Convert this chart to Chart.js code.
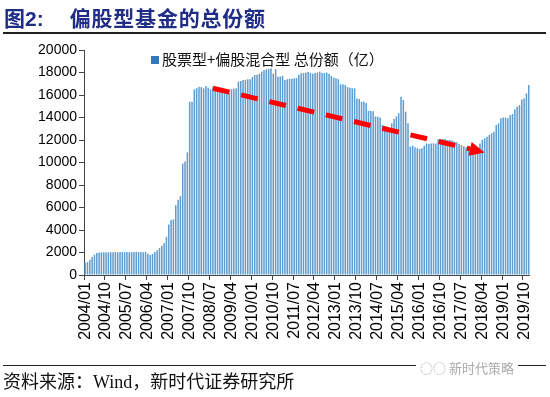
<!DOCTYPE html>
<html>
<head>
<meta charset="utf-8">
<script src="https://cdn.jsdelivr.net/npm/chart.js@4.4.1/dist/chart.umd.min.js"></script>
<style>
  body { margin: 0; background: #fff; }
  #wrap { position: relative; width: 550px; height: 397px; overflow: hidden; }
  #c { position: absolute; left: 0; top: 0; }
  .txt { position: absolute; white-space: nowrap; }
  #title { left: 4px; top: 2px; font: bold 21px "Noto Sans CJK SC"; color: #1F2D86; }
  #title .num { font-family: "Liberation Sans"; }
  #title .main { margin-left: 26px; letter-spacing: 0.8px; }
  #topline { position: absolute; left: 3px; top: 32px; width: 543px; height: 2px; background: #222; }
  #legend { left: 151px; top: 48px; font: 15px "Noto Sans CJK SC"; color: #111; }
  #legend .box { display: inline-block; width: 8px; height: 8px; background: #2F78BA; margin-right: 3px; vertical-align: 1px; }
  #botline { position: absolute; left: 3px; top: 365px; width: 543px; height: 1px; background: #222; }
  #source { left: 3px; top: 367px; font: 18px "Noto Sans CJK SC"; color: #111; }
  #source .en { font-family: "Liberation Serif"; }
  #mark { left: 416px; top: 358px; font: 13px "Noto Sans CJK SC"; color: #aaa; background: #fff; padding: 0 4px; }
</style>
</head>
<body>
<div id="wrap">
  <canvas id="c" width="550" height="397"></canvas>
  <div id="topline"></div>
  <div class="txt" id="title">图<span class="num">2:</span><span class="main">偏股型基金的总份额</span></div>
  <div class="txt" id="legend"><span class="box"></span>股票型+偏股混合型 总份额（亿）</div>
  <div id="botline"></div>
  <div class="txt" id="source">资料来源：<span class="en">Wind</span>，新时代证券研究所</div>
  <div class="txt" id="mark">◌◌ 新时代策略</div>
</div>
<script>
// 股票型+偏股混合型 总份额（亿），月度
const y2004 = [1100, 1150, 1350, 1600, 1800, 1950, 2000, 2000, 2020, 2010, 2030, 2030];
const y2005 = [2030, 2040, 2020, 2050, 2030, 2030, 2040, 2020, 2020, 2040, 2050, 2030];
const y2006 = [2040, 2030, 2050, 1900, 1780, 1870, 2050, 2200, 2400, 2600, 2850, 3400];
const y2007 = [4500, 4900, 4950, 6200, 6700, 7000, 9900, 10100, 10900, 15400, 15400, 16500];
const y2008 = [16600, 16740, 16700, 16600, 16800, 16650, 16500, 16700, 16600, 16500, 16450, 16450];
const y2009 = [16300, 16200, 16200, 16500, 16550, 16600, 17190, 17250, 17330, 17350, 17400, 17400];
const y2010 = [17600, 17780, 17800, 17900, 18080, 18200, 18290, 18300, 18370, 17900, 18300, 17630];
const y2011 = [17650, 17700, 17330, 17400, 17450, 17450, 17500, 17500, 17800, 17930, 17950, 18000];
const y2012 = [18040, 17950, 17900, 17950, 18000, 18080, 17950, 17950, 18000, 17900, 17700, 17540];
const y2013 = [17500, 17400, 16950, 16950, 16900, 16700, 16650, 16600, 16600, 15700, 15650, 15400];
const y2014 = [15400, 15300, 14600, 14580, 14550, 14100, 14070, 14000, 13330, 13250, 13200, 13040];
const y2015 = [13480, 13870, 14100, 14370, 15850, 15560, 14520, 13480, 11410, 11500, 11350, 11260];
const y2016 = [11200, 11260, 11500, 11700, 11650, 11700, 11700, 11700, 12060, 12080, 12080, 12080];
const y2017 = [12000, 12000, 11950, 11850, 11800, 11650, 11550, 11450, 11350, 11110, 11200, 11150];
const y2018 = [11100, 11200, 11700, 12000, 12150, 12300, 12450, 12600, 12740, 13330, 13480, 13930];
const y2019 = [14000, 14000, 13930, 14200, 14310, 14730, 14950, 15110, 15600, 15700, 16150, 16890];

const years = [2004, 2005, 2006, 2007, 2008, 2009, 2010, 2011, 2012, 2013, 2014, 2015, 2016, 2017, 2018, 2019];
const shares = [].concat(y2004, y2005, y2006, y2007, y2008, y2009, y2010, y2011, y2012, y2013,
  y2014, y2015, y2016, y2017, y2018, y2019);

// 每个月一个类别
const months = [];
years.forEach(y => {
  for (let m = 1; m <= 12; m++) months.push(y + '/' + (m < 10 ? '0' + m : m));
});

// 横轴上显示的刻度
const tickLabels = ['2004/01', '2004/10', '2005/07', '2006/04', '2007/01', '2007/10', '2008/07',
  '2009/04', '2010/01', '2010/10', '2011/07', '2012/04', '2013/01', '2013/10', '2014/07',
  '2015/04', '2016/01', '2016/10', '2017/07', '2018/04', '2019/01', '2019/10'];

// 红色虚线箭头（起点、终点）
const arrowFrom = { month: '2008/08', value: 16600 };
const arrowTo = { month: '2018/05', value: 10900 };

const arrowPlugin = {
  id: 'trendArrow',
  afterDatasetsDraw(chart) {
    const { ctx, scales: { x, y } } = chart;
    const x0 = x.getPixelForValue(months.indexOf(arrowFrom.month));
    const y0 = y.getPixelForValue(arrowFrom.value);
    const x1 = x.getPixelForValue(months.indexOf(arrowTo.month));
    const y1 = y.getPixelForValue(arrowTo.value);
    const len = Math.hypot(x1 - x0, y1 - y0);
    const ux = (x1 - x0) / len, uy = (y1 - y0) / len;
    const head = 15, half = 7;
    const bx = x1 - ux * head, by = y1 - uy * head;
    ctx.save();
    ctx.strokeStyle = '#FF0000';
    ctx.fillStyle = '#FF0000';
    ctx.lineWidth = 5;
    ctx.setLineDash([17, 12]);
    ctx.beginPath();
    ctx.moveTo(x0, y0);
    ctx.lineTo(bx, by);
    ctx.stroke();
    ctx.setLineDash([]);
    ctx.beginPath();
    ctx.moveTo(x1, y1);
    ctx.lineTo(bx - uy * half, by + ux * half);
    ctx.lineTo(bx + uy * half, by - ux * half);
    ctx.closePath();
    ctx.fill();
    ctx.restore();
  }
};

new Chart(document.getElementById('c'), {
  type: 'bar',
  data: {
    labels: months,
    datasets: [{
      label: '股票型+偏股混合型 总份额（亿）',
      data: shares,
      backgroundColor: '#5F9DD0',
      borderWidth: 0,
      barPercentage: 0.66,
      categoryPercentage: 1.0
    }]
  },
  options: {
    responsive: false,
    animation: false,
    layout: { padding: { left: 0, right: 13, top: 50, bottom: 0 } },
    plugins: {
      legend: { display: false },
      tooltip: { enabled: false }
    },
    scales: {
      x: {
        afterFit(scale) { scale.height = 122; },
        grid: {
          offset: true,
          drawOnChartArea: false,
          tickLength: 5,
          color: ctx => (ctx.index % 9 === 0 ? '#444' : 'rgba(0,0,0,0)')
        },
        border: { display: true, color: '#444', width: 1 },
        ticks: {
          autoSkip: false,
          minRotation: 90,
          maxRotation: 90,
          padding: 2,
          color: '#000',
          font: { family: 'Liberation Sans', size: 16 },
          callback: (v, i) => (tickLabels.includes(months[i]) ? months[i] : '')
        }
      },
      y: {
        min: 0,
        max: 20000,
        afterFit(scale) { scale.width = 84; },
        grid: { drawOnChartArea: false, tickLength: 5, color: '#444' },
        border: { display: true, color: '#444', width: 1 },
        ticks: {
          stepSize: 2000,
          padding: 2,
          color: '#000',
          font: { family: 'Liberation Sans', size: 14 },
          callback: v => v
        }
      }
    }
  },
  plugins: [arrowPlugin]
});
</script>
</body>
</html>
